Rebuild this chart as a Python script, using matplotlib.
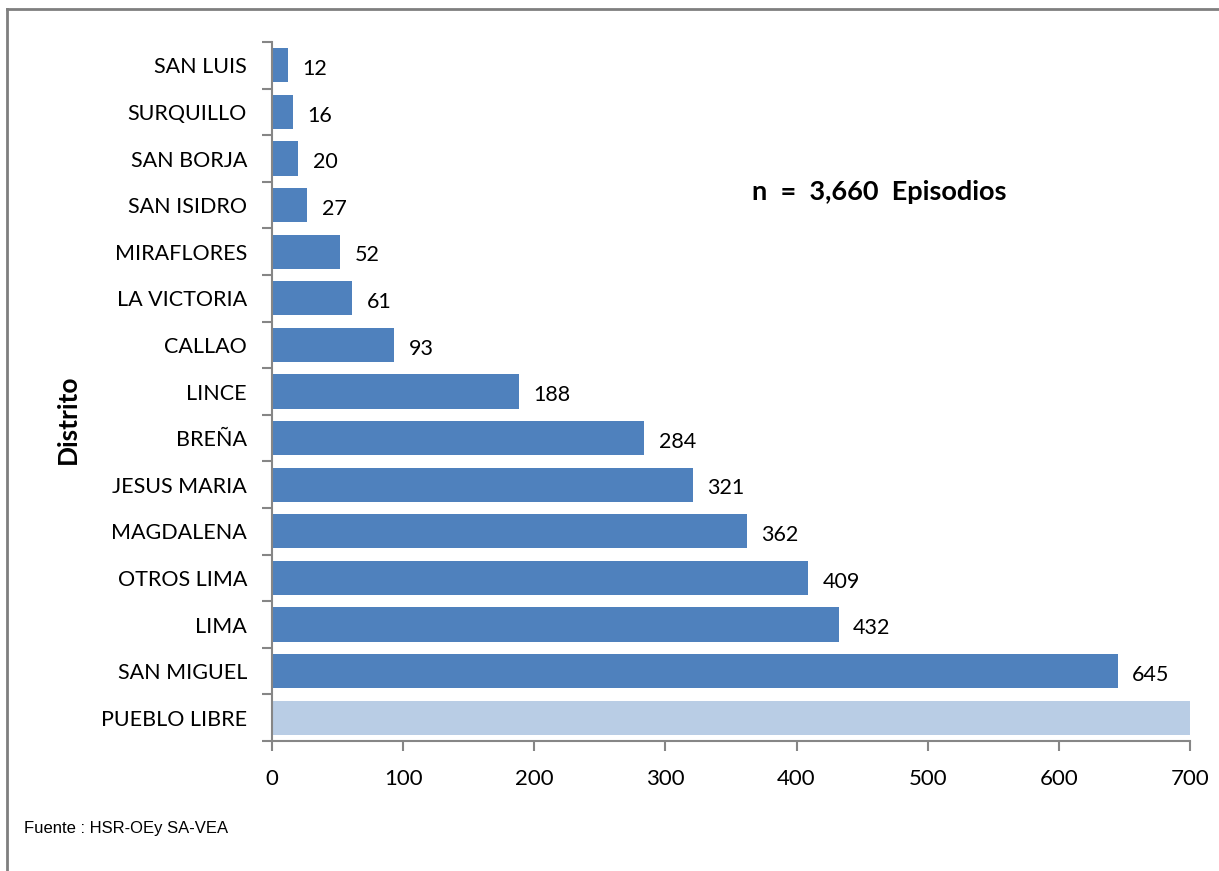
import matplotlib
matplotlib.use("Agg")
import matplotlib.pyplot as plt
from matplotlib.lines import Line2D

plt.rcParams['font.family'] = ['Lato', 'DejaVu Sans']

districts = ["SAN LUIS", "SURQUILLO", "SAN BORJA", "SAN ISIDRO", "MIRAFLORES",
             "LA VICTORIA", "CALLAO", "LINCE", "BREÑA", "JESUS MARIA",
             "MAGDALENA", "OTROS LIMA", "LIMA", "SAN MIGUEL", "PUEBLO LIBRE"]
values = [12, 16, 20, 27, 52, 61, 93, 188, 284, 321, 362, 409, 432, 645, 738]
show_label = [True] * 14 + [False]
bar_colors = ["#4F81BD"] * 14 + ["#B9CDE5"]
x_ticks = [0, 100, 200, 300, 400, 500, 600, 700]

W, H = 1219, 871
fig = plt.figure(figsize=(W / 100, H / 100), dpi=100)
ax = fig.add_axes([272 / W, 1 - 741 / H, (1190 - 272) / W, (741 - 42) / H])

n = len(districts)
ypos = list(range(n))
ax.barh(ypos, values, height=0.73, color=bar_colors, edgecolor="none", zorder=2)
ax.set_xlim(0, 700)
ax.set_ylim(n - 0.5, -0.5)

for y, v, s in zip(ypos, values, show_label):
    if s:
        ax.text(v + 11, y + 0.08, f"{v}", va="center", ha="left", fontsize=15.5, color="black")

ax.set_yticks(ypos)
ax.set_yticklabels(districts, fontsize=15.5)
ax.tick_params(axis="y", length=0, pad=18)
ax.set_yticks([i - 0.5 for i in range(n + 1)], minor=True)
ax.tick_params(axis="y", which="minor", length=7, width=1.5, color="#868686", direction="out")

ax.set_xticks(x_ticks)
ax.set_xticklabels([str(t) for t in x_ticks], fontsize=16)
ax.tick_params(axis="x", length=7, width=1.5, color="#868686", direction="out", pad=13)

for s in ["top", "right"]:
    ax.spines[s].set_visible(False)
for s in ["left", "bottom"]:
    ax.spines[s].set_color("#868686")
    ax.spines[s].set_linewidth(1.5)

fig.text(68 / W, 1 - 419 / H, "Distrito", fontsize=19, fontweight="bold",
         rotation=90, ha="center", va="center")

fig.text(752 / W, 1 - 192 / H, "n  =  3,660  Episodios", fontsize=19.5, fontweight="bold",
         ha="left", va="center")
fig.text(24 / W, 1 - 828 / H, "Fuente : HSR-OEy SA-VEA", fontsize=12, ha="left", va="center",
         family=["Liberation Sans", "DejaVu Sans"])

fig.add_artist(Line2D([7 / W, 1.0], [1 - 9 / H, 1 - 9 / H], transform=fig.transFigure,
                      color="#7F7F7F", linewidth=2))
fig.add_artist(Line2D([7 / W, 7 / W], [0, 1 - 9 / H], transform=fig.transFigure,
                      color="#7F7F7F", linewidth=2))

fig.savefig("out.png", dpi=100)
